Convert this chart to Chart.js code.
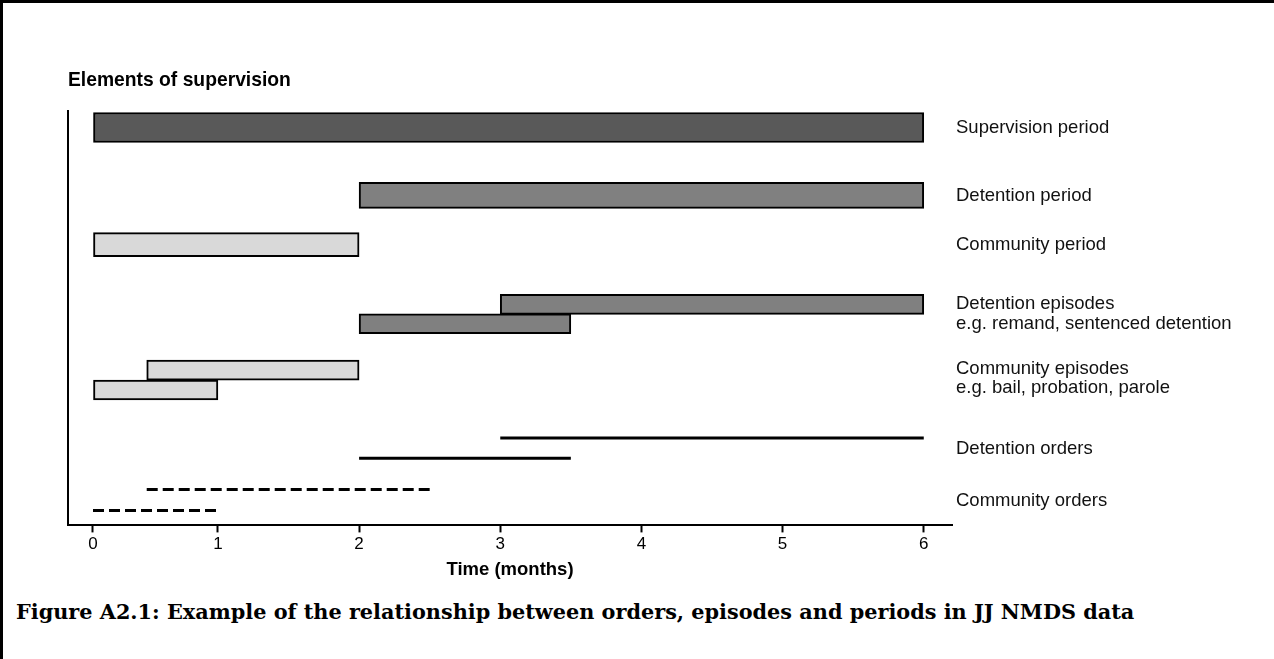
<!DOCTYPE html>
<html>
<head>
<meta charset="utf-8">
<script src="https://cdn.jsdelivr.net/npm/chart.js@4.4.1/dist/chart.umd.min.js"></script>
<style>
    html, body { margin: 0; padding: 0; background: #fff; }
    #page { position: relative; width: 1274px; height: 659px; overflow: hidden; }
    #frame {
        position: absolute; left: 0; top: 0; width: 1274px; height: 659px;
        box-sizing: border-box; border-top: 3px solid #000; border-left: 3px solid #000;
        pointer-events: none;
    }
    #chart { position: absolute; left: 0; top: 0; }
    #caption {
        position: absolute; left: 16px; top: 600px; white-space: nowrap;
        font-family: 'DejaVu Serif', serif; font-weight: bold; font-size: 20.8px;
        line-height: 24px; color: #000;
    }
</style>
</head>
<body>
<div id="page">
    <canvas id="chart" width="1274" height="581"></canvas>
    <div id="caption">Figure A2.1: Example of the relationship between orders, episodes and periods in JJ NMDS data</div>
    <div id="frame"></div>
</div>
<script>
// Timeline of supervision elements (months)

const xTicks = [0, 1, 2, 3, 4, 5, 6];

// right-hand row labels and the lane each one sits on
const rowLabels = [
    'Supervision period',
    'Detention period',
    'Community period',
    ['Detention episodes', 'e.g. remand, sentenced detention'],
    ['Community episodes', 'e.g. bail, probation, parole'],
    'Detention orders',
    'Community orders'
];
const rowLanes = [0.39, 2.03, 3.22, 4.90, 6.45, 8.15, 9.42];

// periods and episodes (bars)
const barKind = ['supervision', 'detention', 'community', 'detention', 'detention', 'community', 'community'];
const barStart = [0, 2, 0, 3, 2, 0.43, 0];
const barEnd = [6, 6, 2, 6, 3.5, 2, 1];
const barLane = [0.39, 2.03, 3.22, 4.66, 5.13, 6.25, 6.73];

// orders (lines)
const orderKind = ['detention', 'detention', 'community', 'community'];
const orderStart = [3, 2, 0.43, 0];
const orderEnd = [6, 3.5, 2.5, 1];
const orderLane = [7.89, 8.38, 9.13, 9.64];

// styles
const fills = { supervision: '#595959', detention: '#808080', community: '#d9d9d9' };
const barHeights = [30, 26, 24, 20, 20, 20, 20];
const dashes = { detention: [], community: [11, 5] };
const FONT = "'Liberation Sans', Arial, sans-serif";

// the first month is drawn a bit narrower than the others in the original
const firstMonthRatio = 0.885;
function warp(v) {
    return v <= 1 ? v * firstMonthRatio : firstMonthRatio + (v - 1);
}
function unwarp(w) {
    return w <= firstMonthRatio ? w / firstMonthRatio : (w - firstMonthRatio) + 1;
}

class WarpedScale extends Chart.LinearScale {
    getPixelForValue(value) {
        if (value === null || isNaN(value)) return NaN;
        const a = warp(this.min), b = warp(this.max);
        return this.getPixelForDecimal((warp(value) - a) / (b - a));
    }
    getValueForPixel(pixel) {
        const a = warp(this.min), b = warp(this.max);
        return unwarp(a + this.getDecimalForPixel(pixel) * (b - a));
    }
}
WarpedScale.id = 'warped';
WarpedScale.defaults = Chart.LinearScale.defaults;
Chart.register(WarpedScale);

const datasets = [];

barStart.forEach(function(start, i) {
    datasets.push({
        type: 'bar',
        data: [{ x: [start, barEnd[i]], y: barLane[i] }],
        backgroundColor: fills[barKind[i]],
        borderColor: '#000',
        borderWidth: 2,
        borderSkipped: false,
        barThickness: barHeights[i],
        stack: 'lanes'
    });
});

orderStart.forEach(function(start, i) {
    datasets.push({
        type: 'line',
        data: [{ x: start, y: orderLane[i] }, { x: orderEnd[i], y: orderLane[i] }],
        borderColor: '#000',
        borderWidth: 3,
        borderDash: dashes[orderKind[i]],
        borderCapStyle: 'butt',
        pointRadius: 0,
        fill: false
    });
});

new Chart(document.getElementById('chart'), {
    data: { datasets: datasets },
    options: {
        indexAxis: 'y',
        responsive: false,
        animation: false,
        events: [],
        layout: { padding: 0 },
        plugins: {
            legend: { display: false },
            tooltip: { enabled: false },
            title: {
                display: true,
                text: 'Elements of supervision',
                align: 'start',
                fullSize: false,
                color: '#000',
                font: { family: FONT, size: 19.3, weight: 'bold' },
                padding: { top: 68.6, bottom: 19.6 }
            }
        },
        scales: {
            x: {
                type: 'warped',
                min: -0.2,
                max: 6.2,
                stacked: false,
                afterBuildTicks: function(scale) {
                    scale.ticks = xTicks.map(v => ({ value: v }));
                },
                grid: {
                    display: true,
                    drawOnChartArea: false,
                    drawTicks: true,
                    tickLength: 7,
                    tickWidth: 2,
                    tickColor: '#000'
                },
                border: { display: true, color: '#000', width: 2 },
                ticks: {
                    color: '#000',
                    padding: 2,
                    font: { family: FONT, size: 17 }
                },
                title: {
                    display: true,
                    text: 'Time (months)',
                    color: '#000',
                    font: { family: FONT, size: 18.5, weight: 'bold' },
                    padding: { top: 2, bottom: 0 }
                }
            },
            y: {
                type: 'linear',
                position: 'left',
                min: 0,
                max: 10,
                reverse: true,
                offset: false,
                grid: { display: false, offset: false },
                border: { display: true, color: '#000', width: 2 },
                ticks: { display: false },
                afterFit: function(scale) { scale.width = 68; }
            },
            y2: {
                type: 'linear',
                position: 'right',
                min: 0,
                max: 10,
                reverse: true,
                offset: false,
                grid: { display: false, drawTicks: false },
                border: { display: false },
                afterBuildTicks: function(scale) {
                    scale.ticks = rowLanes.map(v => ({ value: v }));
                },
                ticks: {
                    autoSkip: false,
                    padding: 4,
                    color: '#111',
                    font: { family: FONT, size: 18.5, lineHeight: 1.08 },
                    callback: function(value, index) {
                        return rowLabels[index];
                    }
                },
                afterFit: function(scale) { scale.width = 322; }
            }
        }
    }
});
</script>
</body>
</html>
